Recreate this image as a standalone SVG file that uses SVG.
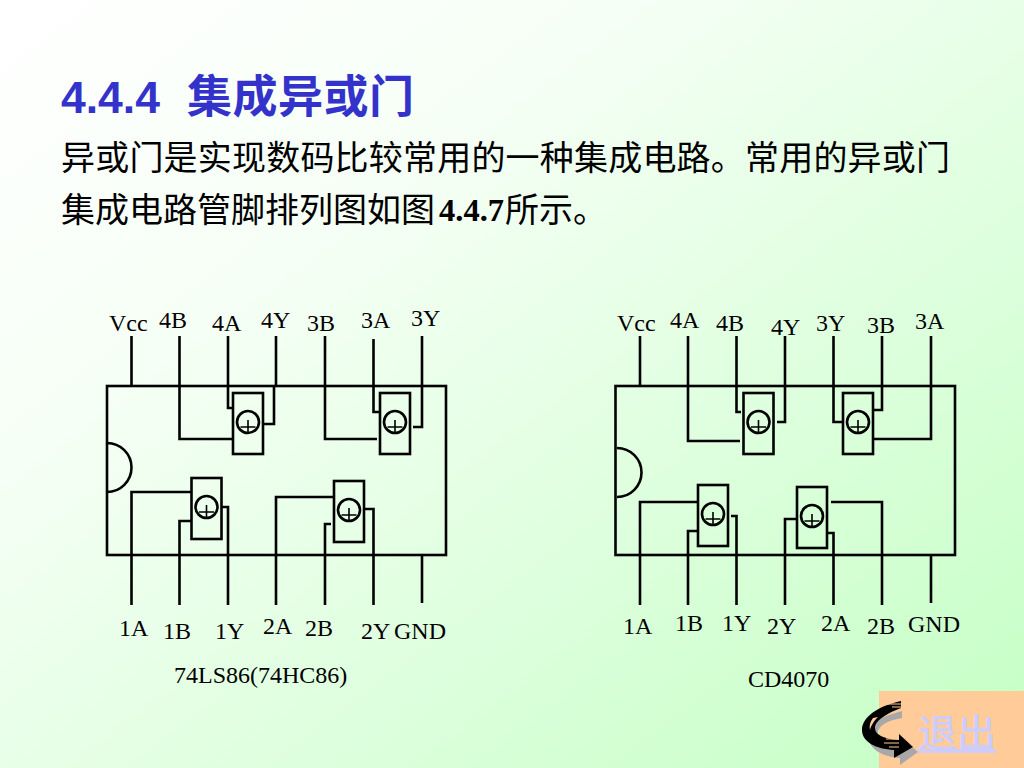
<svg xmlns="http://www.w3.org/2000/svg" width="1024" height="768" viewBox="0 0 1024 768">
<style>
.w{fill:none;stroke:#000;stroke-width:2.600}
.c{fill:none;stroke:#000;stroke-width:1.600}
.l{font-family:"Liberation Serif",serif;font-size:24px;fill:#000}
.b{font-family:"Noto Sans CJK SC",sans-serif;font-size:34px;fill:#000}
.s{fill:none;stroke:#ffcc99;stroke-width:1.200}
</style>
<defs>
<linearGradient id="bg" x1="0" y1="0" x2="1" y2="1"><stop offset="0" stop-color="#fff"/><stop offset="0.3" stop-color="#f6fff6"/><stop offset="1" stop-color="#c4ffc4"/></linearGradient>
<g id="gate"><rect class="w" x="-15" y="-29" width="30" height="61"/><circle class="w" cx="0" cy="0" r="11"/><path class="c" d="M-7.500 5H7.500M0 -2V12"/></g>
</defs>
<rect width="1024" height="768" fill="url(#bg)"/>
<g id="heading">
<text x="61" y="113" font-family="'Liberation Sans','Noto Sans CJK SC',sans-serif" font-size="44.500" font-weight="700" fill="#3333cc">4.4.4</text>
<text x="187" y="113" font-family="'Noto Sans CJK SC',sans-serif" font-size="45" font-weight="700" fill="#3333cc" textLength="227">集成异或门</text>
<text class="b" x="61" y="170" textLength="889">异或门是实现数码比较常用的一种集成电路。常用的异或门</text>
<text class="b" x="61" y="222">集成电路管脚排列图如图</text>
<text x="439" y="221" font-family="'Liberation Serif',serif" font-size="32.500" font-weight="700">4.4.7</text>
<text class="b" x="505" y="222">所示。</text>
</g>
<g id="chip-74LS86">
<rect class="w" x="107" y="386" width="339" height="169"/>
<path class="w" d="M107 443A24.500 24.500 0 0 1 107 492"/>
</g>
<g id="connectors-74LS86">
<path class="w" d="M131.500 336V386M179.500 336V439H233M228 336V408H233M276 336V386M274 386V424H264M325 336V439H377M373.500 339V412H380M422 336V427H413"/>
<path class="w" d="M131.500 605V492H192M179.500 605V521H192M228 605V507H221M276 605V497H334M325 605V524H331M373.500 605V509H364M422 555V603"/>
</g>
<use id="gate-l4" href="#gate" x="248" y="422"/>
<use id="gate-l3" href="#gate" x="395" y="422"/>
<use id="gate-l1" href="#gate" x="206.500" y="507"/>
<use id="gate-l2" href="#gate" x="349" y="510"/>
<g id="labels-74LS86" class="l">
<text x="109" y="331">Vcc</text><text x="159" y="328">4B</text><text x="212" y="331">4A</text><text x="261" y="328">4Y</text><text x="307" y="331">3B</text><text x="361" y="328">3A</text><text x="411" y="326">3Y</text>
<text x="119" y="636">1A</text><text x="163" y="639">1B</text><text x="215" y="639">1Y</text><text x="263" y="634">2A</text><text x="305" y="636">2B</text><text x="361" y="639">2Y</text><text x="394" y="639">GND</text>
<text x="174" y="683">74LS86(74HC86)</text>
</g>
<g id="chip-CD4070">
<rect class="w" x="615.500" y="386" width="339.500" height="169"/>
<path class="w" d="M617 448A24.500 24.500 0 0 1 617 497"/>
</g>
<g id="connectors-CD4070">
<path class="w" d="M640 336V386M688 336V441H740M736.500 336V412H741M785 336V422H777M833.500 336V422H843M882 336V410H873M931 336V439H873"/>
<path class="w" d="M640 605V502H698M688 605V531H698M736.500 605V516H731M785 605V519H797M833.500 605V533H827M882 605V502H831M931 555V603"/>
</g>
<use id="gate-r4" href="#gate" x="758.500" y="422"/>
<use id="gate-r3" href="#gate" x="858" y="422"/>
<use id="gate-r1" href="#gate" x="713" y="514"/>
<use id="gate-r2" href="#gate" x="812" y="516"/>
<g id="labels-CD4070" class="l">
<text x="617" y="331">Vcc</text><text x="670" y="328">4A</text><text x="716" y="331">4B</text><text x="771" y="335">4Y</text><text x="816" y="331">3Y</text><text x="867" y="333">3B</text><text x="915" y="329">3A</text>
<text x="623" y="634">1A</text><text x="675" y="631">1B</text><text x="722" y="631">1Y</text><text x="767" y="634">2Y</text><text x="821" y="631">2A</text><text x="867" y="634">2B</text><text x="908" y="632">GND</text>
<text x="748" y="687">CD4070</text>
</g>
<g id="exit">
<rect x="879" y="691" width="145" height="77" fill="#ffcc99"/>
<path d="M902 711C884 716 868 722 868 735C868 750 884 757 900 758V765L918 752L902 738V744C890 744 878 741 878 733C878 725 890 720 902 718Z" fill="#a8a8a8"/>
<path d="M901 701C878 706 862 717 862 730C862 742 876 749 894 750V758L913 747L899 734V740C884 739 875 735 875 728C875 720 888 713 901 708Z" fill="#000"/>
<path class="s" d="M901 704H886M901 707H892M897 739H886M899 743H884M899 747H889"/>
<path d="M873 718C870 722 869 726 870 730C871 726 873 722 878 717Z" fill="#ffcc99"/>
<text x="918" y="747" font-family="'Noto Sans CJK SC',sans-serif" font-size="39" font-weight="500" fill="#ccccff" text-decoration="underline">退出</text>
</g>
</svg>
